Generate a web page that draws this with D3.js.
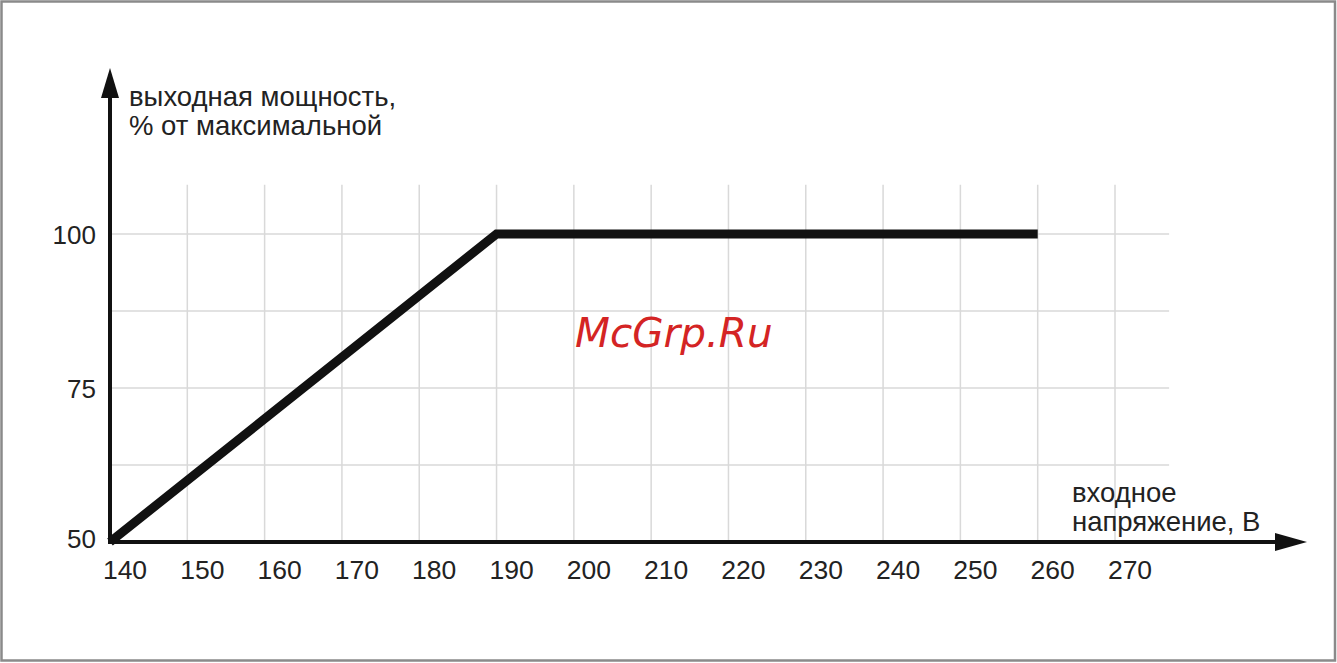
<!DOCTYPE html>
<html><head><meta charset="utf-8">
<script src="https://d3js.org/d3.v7.min.js"></script>
<style>body{margin:0;background:#fff}svg{display:block}</style>
</head><body>
<script>
const xTicks = [140,150,160,170,180,190,200,210,220,230,240,250,260,270];
const yTicks = [50,75,100];
const yGrid = [62.5,75,87.5,100];
const xGrid = [150,160,170,180,190,200,210,220,230,240,250,260,270];
const voltage = [140,190,260];
const power = [50,100,100];
const yTitle = ["выходная мощность,","% от максимальной"];
const xTitle = ["входное","напряжение, В"];

const W=1337,H=663;
const svg=d3.select("body").append("svg").attr("width",W).attr("height",H);
svg.append("rect").attr("x",1.5).attr("y",1.5).attr("width",W-3.5).attr("height",H-4)
  .attr("fill","#fff").attr("stroke","#8a8a8a").attr("stroke-width",2.5);

const x=d3.scaleLinear().domain([140,270]).range([110,1115]);
const y=d3.scaleLinear().domain([50,100]).range([542,234]);
const xEnd=277, yTop=108;
const font="Liberation Sans, Arial, sans-serif";

// grid
svg.append("g").selectAll("line").data(yGrid).join("line")
  .attr("x1",x(140)).attr("x2",x(xEnd)).attr("y1",d=>y(d)).attr("y2",d=>y(d))
  .attr("stroke","#d9d9d9").attr("stroke-width",1.5);
svg.append("g").selectAll("line").data(xGrid).join("line")
  .attr("x1",d=>x(d)).attr("x2",d=>x(d)).attr("y1",y(yTop)).attr("y2",y(50))
  .attr("stroke","#d9d9d9").attr("stroke-width",1.5);

// axes
svg.append("line").attr("x1",x(140)).attr("x2",1280).attr("y1",y(50)).attr("y2",y(50))
  .attr("stroke","#111").attr("stroke-width",4);
svg.append("line").attr("x1",x(140)).attr("x2",x(140)).attr("y1",y(50)+2).attr("y2",95)
  .attr("stroke","#111").attr("stroke-width",4);
svg.append("path").attr("d",`M${x(140)},68 L${x(140)-9},98 L${x(140)+9},98 Z`).attr("fill","#111");
svg.append("path").attr("d",`M1307,${y(50)} L1275,${y(50)-9} L1275,${y(50)+9} Z`).attr("fill","#111");

// data line
svg.append("path").datum(voltage.map((v,i)=>[v,power[i]]))
  .attr("d",d3.line().x(d=>x(d[0])).y(d=>y(d[1])))
  .attr("fill","none").attr("stroke","#111").attr("stroke-width",9)
  .attr("stroke-linejoin","miter").attr("stroke-linecap","butt");

// tick labels
svg.append("g").selectAll("text").data(xTicks).join("text")
  .attr("x",d=>x(d)+15).attr("y",579).attr("text-anchor","middle")
  .attr("font-family",font).attr("font-size",26.5).attr("fill","#222").text(d=>d);
svg.append("g").selectAll("text").data(yTicks).join("text")
  .attr("x",96).attr("y",(d,i)=>y(d)+(i===0?6:9.5)).attr("text-anchor","end")
  .attr("font-family",font).attr("font-size",26).attr("fill","#222").text(d=>d);

// titles
svg.append("g").selectAll("text").data(yTitle).join("text")
  .attr("x",129).attr("y",(d,i)=>106+i*28.5)
  .attr("font-family",font).attr("font-size",27.5).attr("fill","#222").text(d=>d);
svg.append("g").selectAll("text").data(xTitle).join("text")
  .attr("x",1072).attr("y",(d,i)=>502+i*29)
  .attr("font-family",font).attr("font-size",27.5).attr("fill","#222").text(d=>d);

// watermark
svg.append("text").attr("x",575).attr("y",347)
  .attr("font-family","DejaVu Sans, sans-serif").attr("font-style","italic")
  .attr("font-size",40.5).attr("fill","#d42424").text("McGrp.Ru");
</script>
</body></html>
